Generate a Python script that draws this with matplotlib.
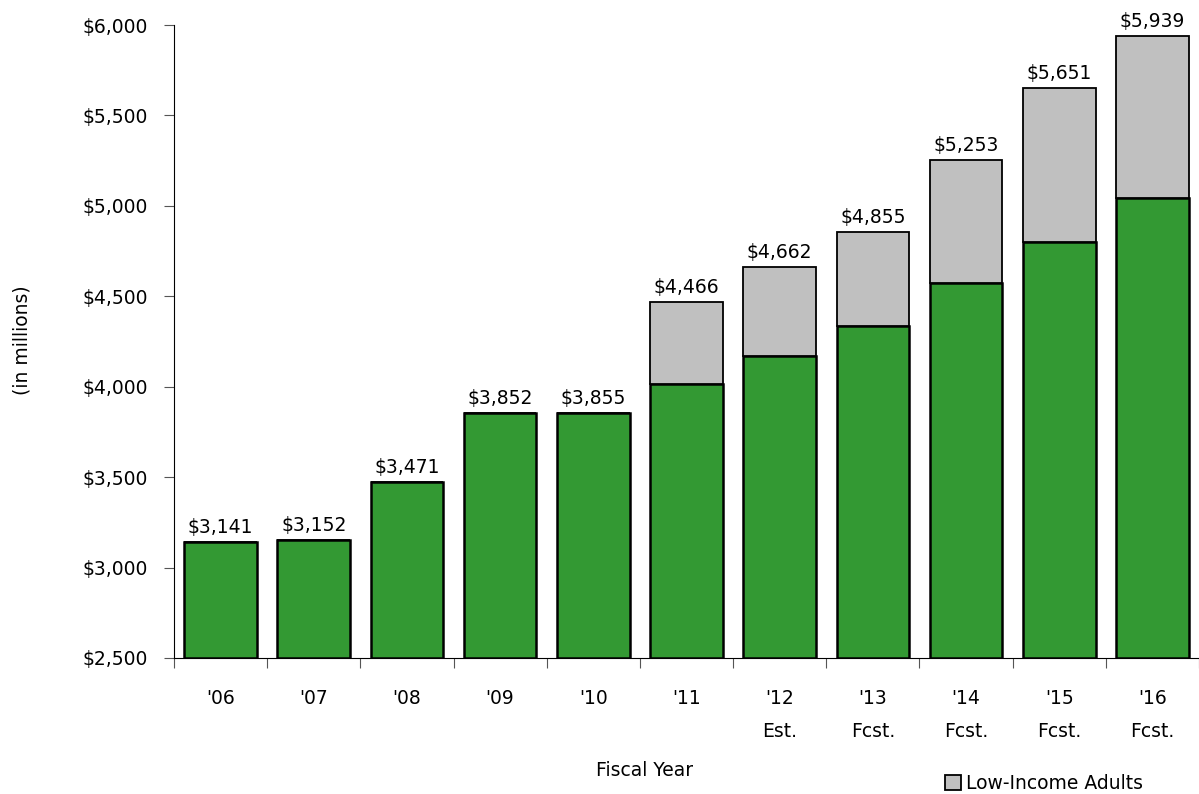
import numpy as np
import matplotlib.pyplot as plt

# Fiscal years and totals ($ millions)
years = ["'06", "'07", "'08", "'09", "'10", "'11", "'12\nEst.", "'13\nFcst.",
         "'14\nFcst.", "'15\nFcst.", "'16\nFcst."]
totals = [3141, 3152, 3471, 3852, 3855, 4466, 4662, 4855, 5253, 5651, 5939]
base = [3141, 3152, 3471, 3852, 3855, 4015, 4170, 4337, 4573, 4802, 5045]
low_income = [t - b for t, b in zip(totals, base)]

green = '#339933'
gray = '#c0c0c0'
fs = 13.5

fig = plt.figure(figsize=(11.99, 7.94), dpi=100)
ax = fig.add_axes([0.1451, 0.1713, 0.8549, 0.7972])

x = np.arange(len(years))
floor = 2500
ax.bar(x, np.array(base) - floor, bottom=floor, width=0.78,
       color=green, edgecolor='black', linewidth=1.8, zorder=3)
ax.bar(x, low_income, bottom=base, width=0.78, color=gray,
       edgecolor='black', linewidth=1.3, zorder=3, label='Low-Income Adults')

for xi, t in zip(x, totals):
    ax.text(xi, t + 30, f'${t:,}', ha='center', va='bottom', fontsize=fs)

ax.set_xlim(-0.5, len(years) - 0.5)
ax.set_ylim(2500, 6000)
ax.set_yticks(np.arange(2500, 6001, 500))
ax.set_yticklabels([f'${v:,}' for v in range(2500, 6001, 500)], fontsize=fs)

# ticks sit on the category boundaries, labels in the middle
ax.set_xticks(np.arange(-0.5, len(years), 1))
ax.set_xticklabels([])
ax.set_xticks(x, minor=True)
ax.set_xticklabels(years, minor=True, fontsize=fs, linespacing=1.95)
ax.tick_params(axis='x', which='major', length=7, direction='out', color='#555555')
ax.tick_params(axis='x', which='minor', length=0, pad=22)
ax.tick_params(axis='y', length=7, direction='out', color='#555555', pad=12)

for s in ['top', 'right']:
    ax.spines[s].set_visible(False)

fig.text(645 / 1199, 1 - 771 / 794, 'Fiscal Year', ha='center', va='center', fontsize=fs)
fig.text(22 / 1199, 1 - 340 / 794, '(in millions)', ha='center', va='center',
         rotation=90, fontsize=fs)

fig.legend(loc='lower left', bbox_to_anchor=(0.774, -0.020), frameon=False,
           fontsize=fs, handlelength=0.85, handleheight=0.85, handletextpad=0.3)

fig.savefig('out.png', dpi=100)
